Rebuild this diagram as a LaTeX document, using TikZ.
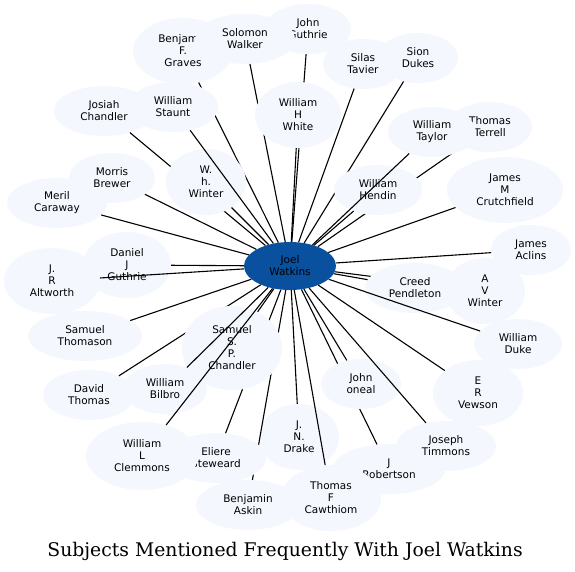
\documentclass[tikz,border=0pt]{standalone}
\usepackage{fontspec}
\newfontfamily\nodefont{DejaVu Sans}
\newfontfamily\titlefont{DejaVu Serif}
\usetikzlibrary{shapes.geometric}
\definecolor{nodefill}{RGB}{244,248,254}
\definecolor{joelfill}{RGB}{9,80,158}
\tikzset{
  pn/.style={ellipse, fill=nodefill, inner sep=0pt, align=center,
    font=\nodefont\fontsize{10.5}{12}\selectfont},
  edge/.style={draw=black, line width=1.1pt},
  centre/.style={ellipse, fill=joelfill, inner sep=0pt, align=center,
    minimum width=92pt, minimum height=48pt,
    font=\nodefont\fontsize{10.5}{12}\selectfont}
}
\newcommand\mynode[6]{%
  \node[pn, minimum width=#4pt, minimum height=#5pt] (#1) at (#2,#3) {#6};
  \draw[edge] (joel) -- (#1);
}
\begin{document}
\begin{tikzpicture}[x=1pt,y=-1pt]
\useasboundingbox (0,0) rectangle (575,571);
\fill[white] (0,0) rectangle (575,571);
\node[centre] (joel) at (290,266) {Joel\\Watkins};
\mynode{jguthrie}{308}{29}{86}{50}{John\\Guthrie}
\mynode{graves}{183}{51}{100}{66}{Benjamin\\F.\\Graves}
\mynode{walker}{245}{39}{100}{50}{Solomon\\Walker}
\mynode{white}{298}{115}{86}{66}{William\\H\\White}
\mynode{tavier}{363}{64}{80}{50}{Silas\\Tavier}
\mynode{dukes}{418}{58}{80}{50}{Sion\\Dukes}
\mynode{terrell}{490}{127}{84}{50}{Thomas\\Terrell}
\mynode{hendin}{378}{190}{88}{50}{William\\Hendin}
\mynode{taylor}{432}{132}{88}{50}{William\\Taylor}
\mynode{crutchfield}{505}{190}{116}{66}{James\\M\\Crutchfield}
\mynode{aclins}{531}{250}{80}{50}{James\\Aclins}
\mynode{avwinter}{485}{291}{80}{66}{A\\V\\Winter}
\mynode{creed}{415}{288}{100}{50}{Creed\\Pendleton}
\mynode{duke}{518}{344}{88}{50}{William\\Duke}
\mynode{vewson}{478}{393}{90}{66}{E\\R\\Vewson}
\mynode{robertson}{389}{469}{112}{50}{J\\Robertson}
\mynode{oneal}{361}{384}{80}{50}{John\\oneal}
\mynode{timmons}{446}{446}{100}{50}{Joseph\\Timmons}
\mynode{drake}{299}{437}{80}{66}{J.\\N.\\Drake}
\mynode{cawthiom}{331}{498}{100}{66}{Thomas\\F\\Cawthiom}
\mynode{askin}{248}{505}{104}{50}{Benjamin\\Askin}
\mynode{eliere}{216}{458}{100}{50}{Eliere\\Steweard}
\mynode{david}{89}{395}{92}{50}{David\\Thomas}
\mynode{chandler}{232}{348}{100}{84}{Samuel\\S.\\P.\\Chandler}
\mynode{bilbro}{165}{389}{84}{50}{William\\Bilbro}
\mynode{clemmons}{142}{456}{112}{68}{William\\L\\Clemmons}
\mynode{thomason}{85}{336}{114}{50}{Samuel\\Thomason}
\mynode{dguthrie}{127}{265}{88}{66}{Daniel\\J\\Guthrie}
\mynode{altworth}{52}{281}{96}{66}{J.\\R\\Altworth}
\mynode{meril}{57}{203}{100}{50}{Meril\\Caraway}
\mynode{morris}{112}{178}{86}{50}{Morris\\Brewer}
\mynode{josiah}{104}{111}{100}{50}{Josiah\\Chandler}
\mynode{whwinter}{206}{182}{80}{66}{W.\\h.\\Winter}
\mynode{staunt}{173}{107}{90}{50}{William\\Staunt}
\node[anchor=base, font=\titlefont\fontsize{18.8}{22}\selectfont] (title) at (285,556) {Subjects Mentioned Frequently With Joel Watkins};
\end{tikzpicture}
\end{document}
